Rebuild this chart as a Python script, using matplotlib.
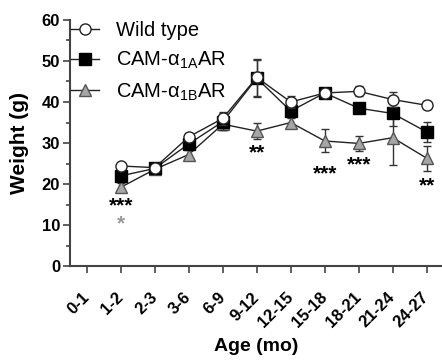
import matplotlib
matplotlib.use("Agg")
import matplotlib.pyplot as plt
from matplotlib.ticker import MultipleLocator
from matplotlib.lines import Line2D

plt.rcParams['font.family'] = ['Liberation Sans', 'DejaVu Sans']
plt.rcParams['mathtext.fontset'] = 'custom'
plt.rcParams['mathtext.rm'] = 'Liberation Sans'
plt.rcParams['mathtext.it'] = 'Liberation Sans'
plt.rcParams['mathtext.bf'] = 'Liberation Sans:bold'

ages = ["0-1", "1-2", "2-3", "3-6", "6-9", "9-12", "12-15", "15-18", "18-21", "21-24", "24-27"]

idx = [1, 2, 3, 4, 5, 6, 7, 8, 9, 10]
wt_mean = [24.4, 24.0, 31.5, 36.0, 46.0, 40.0, 42.2, 42.6, 40.6, 39.2]
wt_err = [0.5, 0.5, 1.0, 1.5, 4.5, 1.5, 0.6, 1.2, 1.8, 1.0]

a_mean = [22.0, 23.8, 29.8, 35.2, 45.8, 37.8, 42.2, 38.5, 37.2, 32.7]
a_err = [1.0, 0.5, 1.0, 2.0, 4.5, 1.5, 0.8, 0.8, 3.0, 2.5]

b_mean = [19.2, 23.6, 27.2, 34.6, 32.9, 35.0, 30.5, 29.9, 31.3, 26.3]
b_err = [1.0, 0.5, 1.0, 1.5, 2.0, 1.0, 2.8, 1.8, 6.7, 3.0]

sig_x = [1, 1, 5, 7, 8, 10]
sig_y = [14.6, 10.2, 27.6, 22.4, 24.6, 19.5]
sig_txt = ["***", "*", "**", "***", "***", "**"]
sig_col = ["black", "#999999", "black", "black", "black", "black"]

labels = ['Wild type', r'CAM-$\mathregular{\alpha_{1A}}$AR', r'CAM-$\mathregular{\alpha_{1B}}$AR']

fig = plt.figure(figsize=(4.42, 3.63), dpi=100)
ax = fig.add_axes([0.158, 0.267, 0.842, 0.678])

common = dict(color='#222222', lw=1.0, elinewidth=1.0, capsize=3, capthick=1.0, ms=8, mew=1.0)
styles = [
    dict(marker='o', mfc='white', mec='#222222'),
    dict(marker='s', mfc='black', mec='black'),
    dict(marker='^', mfc='#a6a6a6', mec='#555555'),
]
ax.errorbar(idx, b_mean, yerr=b_err, ecolor='#333333', zorder=3, **styles[2], **common)
ax.errorbar(idx, a_mean, yerr=a_err, ecolor='#333333', zorder=4, **styles[1], **common)
ax.errorbar(idx, wt_mean, yerr=wt_err, ecolor='#333333', zorder=5, **styles[0], **common)

for x, y, t, c in zip(sig_x, sig_y, sig_txt, sig_col):
    ax.text(x, y, t, ha='center', va='center', fontsize=15, fontweight='bold', color=c)

ax.set_xlim(-0.5, 10.45)
ax.set_ylim(0, 60)
ax.set_xticks(range(len(ages)))
ax.set_xticklabels(ages, rotation=45, ha='right', va='center', rotation_mode='anchor',
                   fontsize=12, fontweight='bold')
ax.yaxis.set_major_locator(MultipleLocator(10))
ax.yaxis.set_minor_locator(MultipleLocator(5))
for lab in ax.get_yticklabels():
    lab.set_fontweight('bold')
    lab.set_fontsize(12)
ax.tick_params(axis='both', which='major', length=5, width=1.2, color='#444444')
ax.tick_params(axis='y', which='minor', length=3, width=1.2, color='#444444')
ax.tick_params(axis='x', pad=16)
ax.tick_params(axis='y', pad=2)
for s in ['top', 'right']:
    ax.spines[s].set_visible(False)
for s in ['left', 'bottom']:
    ax.spines[s].set_linewidth(1.5)
    ax.spines[s].set_color('#444444')

ax.set_xlabel('Age (mo)', fontsize=14, fontweight='bold', labelpad=5)
ax.set_ylabel('Weight (g)', fontsize=15, fontweight='bold', labelpad=9)

handles = [Line2D([], [], color='#222222', lw=1.0, ms=8, mew=1.0, **st) for st in styles]
leg = ax.legend(handles, labels, loc='upper left', bbox_to_anchor=(-0.03, 1.045),
                frameon=False, fontsize=14.5, handlelength=1.4, labelspacing=0.5,
                handletextpad=0.85, borderaxespad=0.2)

fig.savefig('out.png', dpi=100)
